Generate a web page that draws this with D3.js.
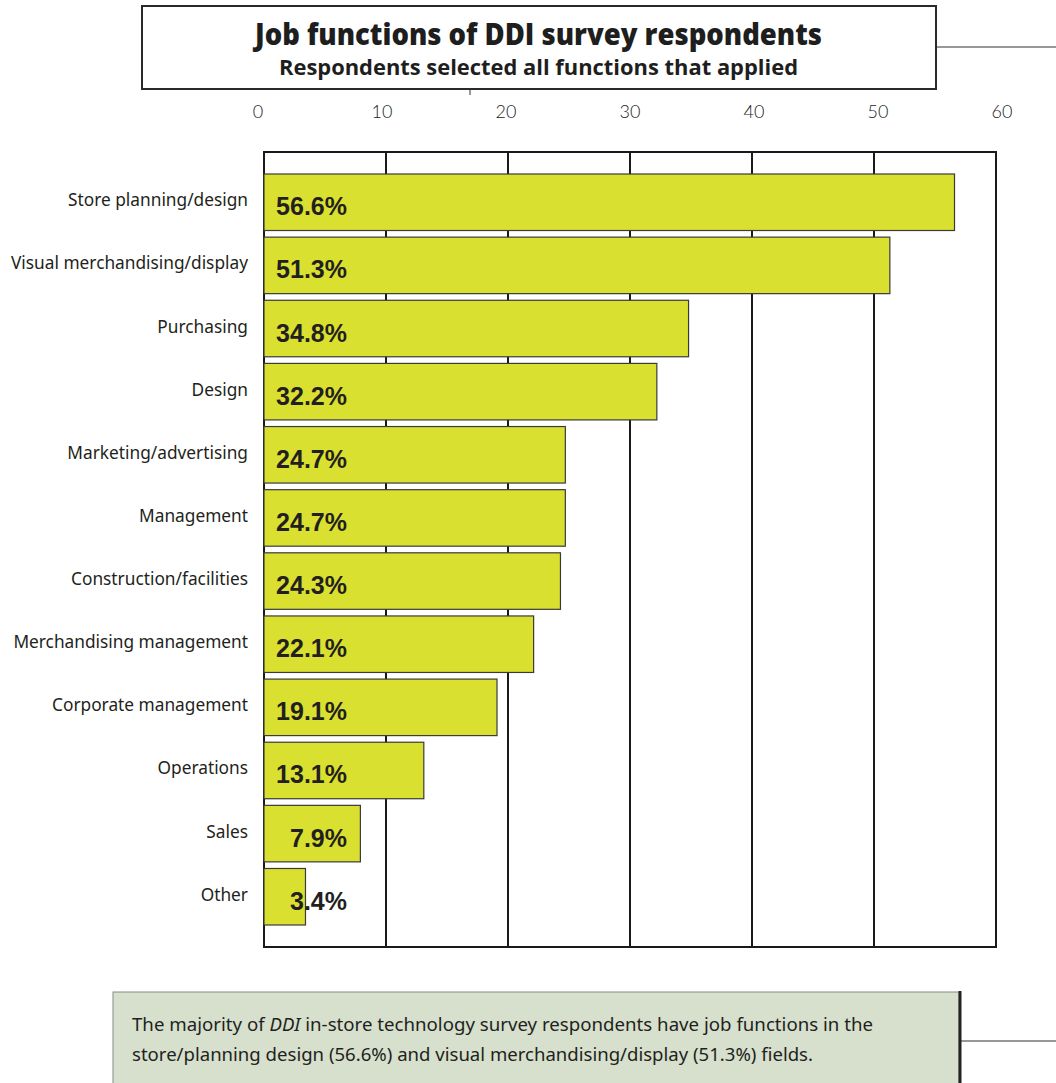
<!DOCTYPE html>
<html>
<head>
<meta charset="utf-8">
<script src="https://cdn.jsdelivr.net/npm/d3@7/dist/d3.min.js"></script>
<style>
  body { margin: 0; background: #fff; }
  svg { display: block; }
</style>
</head>
<body>
<svg width="1056" height="1083"></svg>
<script>
// data
var categories = ["Store planning/design", "Visual merchandising/display", "Purchasing", "Design",
  "Marketing/advertising", "Management", "Construction/facilities", "Merchandising management",
  "Corporate management", "Operations", "Sales", "Other"];
var values = [56.6, 51.3, 34.8, 32.2, 24.7, 24.7, 24.3, 22.1, 19.1, 13.1, 7.9, 3.4];
var tickValues = [0, 10, 20, 30, 40, 50, 60];
var title = "Job functions of DDI survey respondents";
var subtitle = "Respondents selected all functions that applied";

var svg = d3.select("svg");

var plot = { left: 264, right: 996, top: 152, bottom: 947 };

var x = d3.scaleLinear().domain([0, 60]).range([plot.left, plot.right]);
// tick labels sit slightly wider than the frame
var xLab = d3.scaleLinear().domain([0, 60]).range([258, 1002]);
var y = d3.scaleBand().domain(categories).range([174, 925]).paddingInner(0.105).paddingOuter(0);

// title box
svg.append("line").attr("x1", 936).attr("x2", 1056).attr("y1", 47).attr("y2", 47)
  .attr("stroke", "#333").attr("stroke-width", 1.2);
svg.append("line").attr("x1", 470).attr("x2", 470).attr("y1", 88).attr("y2", 95)
  .attr("stroke", "#333").attr("stroke-width", 1);
svg.append("rect").attr("x", 142).attr("y", 6).attr("width", 794).attr("height", 83)
  .attr("fill", "#fff").attr("stroke", "#2a2a2a").attr("stroke-width", 2);
svg.append("text").attr("x", 255).attr("y", 45)
  .attr("textLength", 567).attr("lengthAdjust", "spacingAndGlyphs")
  .style("font", "800 30px 'Open Sans'").attr("fill", "#1e1e1e").text(title);
svg.append("text").attr("x", 279).attr("y", 75)
  .attr("textLength", 519).attr("lengthAdjust", "spacingAndGlyphs")
  .style("font", "bold 20.5px 'Open Sans'").attr("fill", "#1e1e1e").text(subtitle);

// tick labels on top
svg.append("g").selectAll("text").data(tickValues).enter().append("text")
  .attr("x", function(d) { return xLab(d); })
  .attr("y", 118)
  .attr("text-anchor", "middle")
  .style("font", "300 18px Lato")
  .attr("fill", "#222")
  .text(function(d) { return d; });

// frame + gridlines
var grid = svg.append("g").attr("stroke", "#1a1a1a").attr("stroke-width", 2);
grid.selectAll("line").data(tickValues).enter().append("line")
  .attr("x1", function(d) { return x(d); })
  .attr("x2", function(d) { return x(d); })
  .attr("y1", plot.top).attr("y2", plot.bottom);
grid.append("line").attr("x1", plot.left - 1).attr("x2", plot.right + 1)
  .attr("y1", plot.top).attr("y2", plot.top);
grid.append("line").attr("x1", plot.left - 1).attr("x2", plot.right + 1)
  .attr("y1", plot.bottom).attr("y2", plot.bottom);

// bars
var bar = svg.append("g").selectAll("g").data(categories).enter().append("g");
bar.append("rect")
  .attr("x", x(0))
  .attr("y", function(d) { return y(d); })
  .attr("width", function(d, i) { return x(values[i]) - x(0); })
  .attr("height", y.bandwidth())
  .attr("fill", "#dae02f")
  .attr("stroke", "#3a3a3a")
  .attr("stroke-width", 1.2);

bar.append("text")
  .attr("x", 347)
  .attr("y", function(d) { return y(d) + y.bandwidth() / 2 + 13; })
  .attr("text-anchor", "end")
  .style("font", "bold 25px 'Liberation Sans'")
  .attr("fill", "#231f20")
  .text(function(d, i) { return values[i].toFixed(1) + "%"; });

// category labels
svg.append("g").selectAll("text").data(categories).enter().append("text")
  .attr("x", 248)
  .attr("y", function(d) { return y(d) + y.bandwidth() / 2 + 4; })
  .attr("text-anchor", "end")
  .style("font", "17.3px 'Noto Sans'")
  .attr("fill", "#231f20")
  .text(function(d) { return d; });

// footer note
svg.append("line").attr("x1", 960).attr("x2", 1056).attr("y1", 1041).attr("y2", 1041)
  .attr("stroke", "#333").attr("stroke-width", 1.2);
svg.append("rect").attr("x", 113).attr("y", 992).attr("width", 846).attr("height", 100)
  .attr("fill", "#d6e0cd").attr("stroke", "#8a8a8a").attr("stroke-width", 1);
svg.append("line").attr("x1", 960).attr("x2", 960).attr("y1", 991).attr("y2", 1083)
  .attr("stroke", "#222").attr("stroke-width", 3);
var note = svg.append("text").attr("x", 132).attr("y", 1031)
  .attr("textLength", 741).attr("lengthAdjust", "spacingAndGlyphs")
  .style("font", "18px 'Noto Sans'").attr("fill", "#231f20");
note.append("tspan").text("The majority of ");
note.append("tspan").style("font-style", "italic").text("DDI");
note.append("tspan").text(" in-store technology survey respondents have job functions in the");
svg.append("text").attr("x", 132).attr("y", 1061)
  .attr("textLength", 681).attr("lengthAdjust", "spacingAndGlyphs")
  .style("font", "18px 'Noto Sans'").attr("fill", "#231f20")
  .text("store/planning design (56.6%) and visual merchandising/display (51.3%) fields.");
</script>
</body>
</html>
